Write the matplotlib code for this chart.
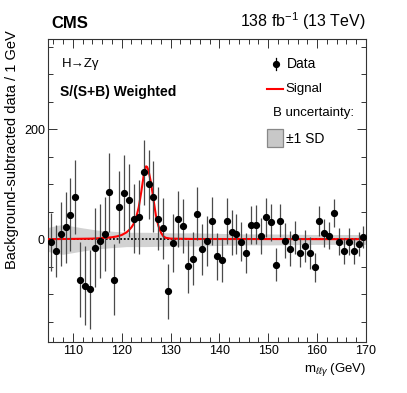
import matplotlib
matplotlib.use("Agg")
import matplotlib.pyplot as plt
import numpy as np
from matplotlib.ticker import MultipleLocator
from matplotlib.patches import Rectangle

plt.rcParams['font.family'] = ['Liberation Sans', 'DejaVu Sans']
plt.rcParams['mathtext.fontset'] = 'custom'
plt.rcParams['mathtext.rm'] = 'Liberation Sans'
plt.rcParams['mathtext.it'] = 'Liberation Sans:italic'

# ---- data (bin centres 105.5 ... 169.5 GeV) ----
mass_lo = 105
mass_hi = 170
data_values = [-4, -21, 10, 22, 45, 77, -73, -84, -91, -15,
               -3, 10, 86, -73, 59, 84, 71, 38, 41, 122,
               100, 78, 38, 20, -94, -6, 37, 24, -49, -35,
               47, -18, -3, 33, -31, -37, 33, 13, 10, -4,
               -25, 26, 27, 6, 40, 31, -46, 34, -2, -17,
               4, -24, -12, -25, -51, 34, 12, 7, 48, -4,
               -21, -4, -21, -9, 4]
data_errors = [53, 47, 59, 65, 66, 68, 68, 72, 71, 72,
               68, 68, 72, 65, 66, 69, 66, 62, 67, 59,
               62, 65, 57, 56, 50, 53, 51, 49, 48, 48,
               48, 46, 45, 44, 43, 40, 42, 41, 36, 35,
               36, 35, 36, 33, 35, 33, 30, 30, 32, 32,
               30, 27, 29, 29, 27, 27, 26, 25, 26, 24,
               24, 24, 23, 22, 20]
bin_centres = [mass_lo + 0.5 + k for k in range(len(data_values))]

# signal model curve
signal_mass = [105, 110, 114, 116, 118, 119, 120, 121, 121.5, 122, 122.5, 123,
               123.5, 124, 124.5, 124.8, 125, 125.2, 125.5, 126, 126.5, 127,
               127.5, 128, 128.5, 129, 130, 135, 170]
signal_vals = [0.5, 1, 1.5, 2.5, 4, 5.5, 8, 13, 17, 22, 29, 41,
               59, 86, 116, 129, 133, 132, 125, 103, 73, 44,
               25, 13, 6, 3, 1.5, 0.8, 0.5]

# background uncertainty band (+-1 SD half width)
band_mass = [105, 107, 108, 110, 112, 115, 118, 121, 125, 130, 135, 140,
             145, 150, 155, 160, 165, 170]
band_half = [22, 26, 27, 24, 21, 17, 15, 13, 13, 12, 12, 11,
             10, 10, 9.5, 9, 9, 9]

# ---- figure ----
fig = plt.figure(figsize=(4.07, 3.93), dpi=100)
ax = fig.add_axes([0.119, 0.1305, 0.780, 0.7695])

bm = np.array(band_mass)
bh = np.array(band_half)
ax.fill_between(bm, -bh, bh, color='#d2d2d2', lw=0, zorder=1)
ax.axhline(0, color='black', lw=1.3, ls=(0, (1, 1)), zorder=2)
ax.plot(signal_mass, signal_vals, color='red', lw=1.5, zorder=3)
ax.errorbar(bin_centres, data_values, yerr=data_errors, fmt='o', color='black',
            ecolor='#4a4a4a', elinewidth=0.9, capsize=0, markersize=4.2, zorder=4)

ax.set_xlim(mass_lo, mass_hi)
ax.set_ylim(-186, 364)

ax.xaxis.set_major_locator(MultipleLocator(10))
ax.xaxis.set_minor_locator(MultipleLocator(2))
ax.yaxis.set_major_locator(MultipleLocator(200))
ax.yaxis.set_minor_locator(MultipleLocator(50))
ax.tick_params(which='both', direction='in', top=True, right=True, labelsize=9,
               width=0.7, colors='#333333', labelcolor='black')
ax.tick_params(which='major', length=6.5, pad=2.5)
ax.tick_params(which='minor', length=3.4)
for s in ax.spines.values():
    s.set_linewidth(0.8)
    s.set_color('#333333')

# axis titles
fig.text(12 / 407, 1 - 30 / 393, 'Background-subtracted data / 1 GeV', rotation=90,
         ha='center', va='top', fontsize=10.5)
fig.text(366 / 407, 1 - 369 / 393, r'm$_{\ell\ell\gamma}$ (GeV)', ha='right',
         va='center', fontsize=9.5)

# header
fig.text(51 / 407, 1 - 24 / 393, 'CMS', fontsize=12, fontweight='bold',
         ha='left', va='center')
fig.text(366 / 407, 1 - 21 / 393, r'138 fb$^{-1}$ (13 TeV)', fontsize=11.5,
         ha='right', va='center')

# in-plot labels
ax.text(0.0416, 0.917, 'H\u2192Z\u03b3', transform=ax.transAxes,
        fontsize=9.5, ha='left', va='center')
ax.text(0.037, 0.826, 'S/(S+B) Weighted', transform=ax.transAxes,
        fontsize=10, fontweight='bold', ha='left', va='center')

# legend (manual)
ax.plot([0.716], [0.918], 'o', color='black', markersize=4.2,
        transform=ax.transAxes, clip_on=False)
ax.plot([0.716, 0.716], [0.898, 0.938], color='black', lw=0.9,
        transform=ax.transAxes, clip_on=False)
ax.text(0.750, 0.918, 'Data', transform=ax.transAxes, fontsize=10,
        ha='left', va='center')
ax.plot([0.688, 0.739], [0.836, 0.836], color='red', lw=1.5,
        transform=ax.transAxes, clip_on=False)
ax.text(0.748, 0.836, 'Signal', transform=ax.transAxes, fontsize=9.5,
        ha='left', va='center')
ax.text(0.706, 0.757, 'B uncertainty:', transform=ax.transAxes, fontsize=9.5,
        ha='left', va='center')
ax.add_patch(Rectangle((0.688, 0.643), 0.051, 0.059, transform=ax.transAxes,
                       facecolor='#c8c8c8', edgecolor='#888888', lw=0.9,
                       clip_on=False))
ax.text(0.748, 0.669, '\u00b11 SD', transform=ax.transAxes, fontsize=10,
        ha='left', va='center')

fig.savefig('out.png', dpi=100)
